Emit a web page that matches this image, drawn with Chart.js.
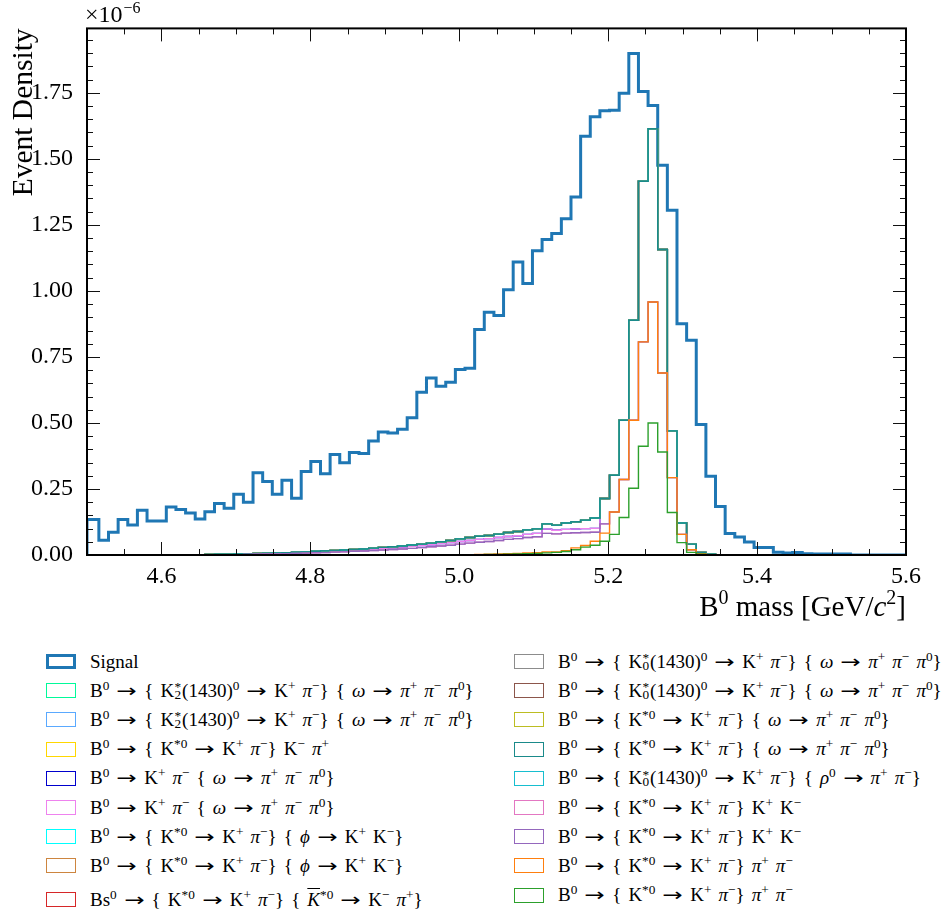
<!DOCTYPE html>
<html lang="en">
<head>
<meta charset="UTF-8">
<title>B0 mass - signal and peaking backgrounds</title>
<script src="https://cdn.jsdelivr.net/npm/chart.js"></script>
<style>
  html, body { margin: 0; padding: 0; background: #fff; }
  body { width: 947px; height: 916px; overflow: hidden; position: relative;
         font-family: "Liberation Serif", "DejaVu Serif", serif; color: #000; }
  #chartBox { position: absolute; left: 0; top: 0; width: 947px; height: 640px; }
  #legend { position: absolute; left: 0; top: 647px; width: 947px; display: flex; }
  #legend .col { display: flex; flex-direction: column; }
  #legend .col.left { margin-left: 46px; width: 468px; }
  #legend .item { display: flex; align-items: center; height: 29.2px; font-size: 19px;
                  white-space: nowrap; word-spacing: 2.3px; }
  #legend .item.tall { height: 38.8px; }
  #legend .box { box-sizing: border-box; width: 30px; height: 15px; margin-right: 14px; background: #fff; flex: none; }
  sup { font-size: 0.7em; line-height: 0; vertical-align: 0.5em; }
  .ar { display: inline-block; width: 1.15em; text-align: center; font-family: "DejaVu Sans", sans-serif; font-size: 0.95em; }
  .ar span { display: inline-block; transform: scaleX(1.35); }
  .stk { display: inline-block; position: relative; width: 0.42em; height: 0.75em; }
  .stk .up { position: absolute; left: 0.02em; top: -0.25em; font-size: 0.7em; }
  .stk .dn { position: absolute; left: 0.02em; bottom: -0.45em; font-size: 0.7em; }
  .bar { font-style: italic; text-decoration: overline; }
</style>
</head>
<body>
<div id="chartBox"><canvas id="massChart"></canvas></div>
<div id="legend"></div>

<script>
// ------------------------------------------------
// Binning and axis ticks (y values are in units of 1e-6)
const xMin = 4.5, xMax = 5.6, nBins = 85;
const binStart = 4.503;          // first full bin edge seen in the plot
const xTickValues = [4.6, 4.8, 5.0, 5.2, 5.4, 5.6];
const yTickValues = [0, 0.25, 0.5, 0.75, 1.0, 1.25, 1.5, 1.75];
const yMax = 1.994;

// ------------------------------------------------
// Bin contents (85 bins)
const signalDensity = [
  0.134, 0.056, 0.086, 0.134, 0.114, 0.169, 0.129, 0.129, 0.182, 0.172,
  0.159, 0.136, 0.164, 0.195, 0.177, 0.230, 0.200, 0.311, 0.278, 0.230,
  0.283, 0.215, 0.316, 0.354, 0.308, 0.381, 0.349, 0.388, 0.384, 0.432,
  0.466, 0.462, 0.476, 0.520, 0.616, 0.670, 0.639, 0.654, 0.702, 0.707,
  0.854, 0.919, 0.907, 1.004, 1.109, 1.028, 1.152, 1.195, 1.217, 1.273,
  1.356, 1.586, 1.659, 1.682, 1.684, 1.748, 1.899, 1.755, 1.702, 1.476,
  1.305, 0.876, 0.813, 0.494, 0.298, 0.184, 0.081, 0.068, 0.049, 0.028,
  0.028, 0.010, 0.008, 0.009, 0.005, 0.004, 0.004, 0.004, 0.004, 0,
  0, 0, 0, 0, 0
];

// resonant K* / omega / phi / rho modes (the teal-cyan peak)
const omegaModes = [
  0, 0, 0, 0, 0, 0, 0, 0, 0, 0,
  0, 0.001, 0.002, 0.003, 0.003, 0.004, 0.005, 0.006, 0.007, 0.008,
  0.009, 0.011, 0.012, 0.014, 0.016, 0.017, 0.019, 0.021, 0.023, 0.026,
  0.029, 0.031, 0.034, 0.038, 0.041, 0.045, 0.050, 0.055, 0.061, 0.066,
  0.071, 0.074, 0.079, 0.085, 0.089, 0.095, 0.099, 0.118, 0.113, 0.121,
  0.126, 0.132, 0.140, 0.214, 0.302, 0.510, 0.889, 1.415, 1.614, 1.157,
  0.470, 0.121, 0.041, 0.010, 0.003, 0, 0, 0, 0, 0,
  0, 0, 0, 0, 0, 0, 0, 0, 0, 0,
  0, 0, 0, 0, 0
];

// non-resonant K+ pi- with omega
const nonresOmega = [
  0, 0, 0, 0, 0, 0, 0, 0, 0, 0,
  0, 0, 0, 0, 0.001, 0.002, 0.003, 0.004, 0.005, 0.006,
  0.007, 0.008, 0.009, 0.011, 0.012, 0.014, 0.016, 0.018, 0.020, 0.022,
  0.025, 0.027, 0.030, 0.033, 0.036, 0.039, 0.043, 0.047, 0.051, 0.055,
  0.059, 0.062, 0.066, 0.070, 0.073, 0.078, 0.082, 0.098, 0.094, 0.097,
  0.099, 0.100, 0.101, 0.214, 0.302, 0.510, 0.889, 1.415, 1.614, 1.157,
  0.470, 0.121, 0.041, 0.010, 0.003, 0, 0, 0, 0, 0,
  0, 0, 0, 0, 0, 0, 0, 0, 0, 0,
  0, 0, 0, 0, 0
];

// K*0 K+ K-
const kstarKK = [
  0, 0, 0, 0, 0, 0, 0, 0, 0, 0,
  0, 0, 0, 0, 0, 0.001, 0.002, 0.003, 0.004, 0.004,
  0.005, 0.006, 0.007, 0.008, 0.009, 0.011, 0.012, 0.014, 0.015, 0.017,
  0.019, 0.021, 0.023, 0.025, 0.028, 0.031, 0.034, 0.037, 0.041, 0.045,
  0.048, 0.051, 0.055, 0.059, 0.062, 0.066, 0.069, 0.082, 0.080, 0.083,
  0.084, 0.085, 0.086, 0.118, 0.163, 0.286, 0.510, 0.807, 0.958, 0.689,
  0.293, 0.078, 0.020, 0.005, 0, 0, 0, 0, 0, 0,
  0, 0, 0, 0, 0, 0, 0, 0, 0, 0,
  0, 0, 0, 0, 0
];

// K*0 pi+ pi- (orange)
const kstarPiPiA = [
  0, 0, 0, 0, 0, 0, 0, 0, 0, 0,
  0, 0, 0, 0, 0, 0, 0, 0, 0, 0,
  0, 0, 0, 0, 0, 0, 0, 0, 0, 0,
  0, 0, 0, 0, 0, 0, 0, 0, 0, 0.001,
  0.002, 0.003, 0.004, 0.005, 0.006, 0.008, 0.009, 0.012, 0.012, 0.016,
  0.027, 0.036, 0.052, 0.083, 0.163, 0.286, 0.510, 0.807, 0.958, 0.689,
  0.293, 0.078, 0.020, 0.005, 0, 0, 0, 0, 0, 0,
  0, 0, 0, 0, 0, 0, 0, 0, 0, 0,
  0, 0, 0, 0, 0
];

// K*0 pi+ pi- (green)
const kstarPiPiB = [
  0, 0, 0, 0, 0, 0, 0, 0, 0, 0,
  0, 0, 0, 0, 0, 0, 0, 0, 0, 0,
  0, 0, 0, 0, 0, 0, 0, 0, 0, 0,
  0, 0, 0, 0, 0, 0, 0, 0, 0, 0,
  0.001, 0.002, 0.002, 0.003, 0.004, 0.005, 0.006, 0.008, 0.010, 0.013,
  0.020, 0.030, 0.037, 0.052, 0.078, 0.142, 0.253, 0.412, 0.500, 0.390,
  0.161, 0.047, 0.010, 0.003, 0, 0, 0, 0, 0, 0,
  0, 0, 0, 0, 0, 0, 0, 0, 0, 0,
  0, 0, 0, 0, 0
];

// ------------------------------------------------
// Legend entries (^x superscript, _x subscript, ~K barred K)
const legendLabels = [
  'Signal',
  'B^0 → { K^*_2(1430)^0 → K^+ π^−} { ω → π^+ π^− π^0}',
  'B^0 → { K^*_2(1430)^0 → K^+ π^−} { ω → π^+ π^− π^0}',
  'B^0 → { K^{*0} → K^+ π^−} K^− π^+',
  'B^0 → K^+ π^− { ω → π^+ π^− π^0}',
  'B^0 → K^+ π^− { ω → π^+ π^− π^0}',
  'B^0 → { K^{*0} → K^+ π^−} { ϕ → K^+ K^−}',
  'B^0 → { K^{*0} → K^+ π^−} { ϕ → K^+ K^−}',
  'Bs^0 → { K^{*0} → K^+ π^−} { ~K^{*0} → K^− π^+}',
  'B^0 → { K^*_0(1430)^0 → K^+ π^−} { ω → π^+ π^− π^0}',
  'B^0 → { K^*_0(1430)^0 → K^+ π^−} { ω → π^+ π^− π^0}',
  'B^0 → { K^{*0} → K^+ π^−} { ω → π^+ π^− π^0}',
  'B^0 → { K^{*0} → K^+ π^−} { ω → π^+ π^− π^0}',
  'B^0 → { K^*_0(1430)^0 → K^+ π^−} { ρ^0 → π^+ π^−}',
  'B^0 → { K^{*0} → K^+ π^−} K^+ K^−',
  'B^0 → { K^{*0} → K^+ π^−} K^+ K^−',
  'B^0 → { K^{*0} → K^+ π^−} π^+ π^−',
  'B^0 → { K^{*0} → K^+ π^−} π^+ π^−'
];
const seriesValues = [
  signalDensity, omegaModes, omegaModes, omegaModes, nonresOmega, nonresOmega,
  omegaModes, omegaModes, omegaModes, omegaModes, omegaModes, omegaModes,
  omegaModes, omegaModes, kstarKK, kstarKK, kstarPiPiA, kstarPiPiB
];
const seriesColors = [
  '#1f77b4', '#00fa9a', '#5aa9ff', '#ffd700', '#0000cd', '#ee82ee',
  '#00ffff', '#cd853f', '#d62728', '#8c8c8c', '#8c564b', '#bcbd22',
  '#1a8a8a', '#17becf', '#e377c2', '#9467bd', '#ff7f0e', '#2ca02c'
];

const serif = '"Liberation Serif", "DejaVu Serif", serif';

function toHtml(s) {
  return s
    .replace(/~K/g, '<span class="bar">K</span>')
    .replace(/\^(\S)_(\S)/g, '<span class="stk"><span class="up">$1</span><span class="dn">$2</span></span>')
    .replace(/\^\{([^}]*)\}/g, '<sup>$1</sup>')
    .replace(/\^(\S)/g, '<sup>$1</sup>')
    .replace(/([πωϕρ])/g, '<i>$1</i>')
    .replace(/→/g, '<span class="ar"><span>→</span></span>');
}

// histogram outline as step points on the bin edges
const binWidth = (xMax - xMin) / nBins;
function stepPoints(vals) {
  const edge = i => (i === 0 ? xMin : binStart + i * binWidth);
  const pts = [{ x: edge(0), y: 0 }];
  vals.forEach((v, i) => pts.push({ x: edge(i), y: v }));
  pts.push({ x: edge(vals.length), y: vals[vals.length - 1] });
  pts.push({ x: edge(vals.length), y: 0 });
  return pts;
}

// later entries drawn on top, as in the original; the teal line shows over the cyan one
const drawOrder = i => (i === 12 ? 4.5 : seriesValues.length - i);

const datasets = seriesValues.map((vals, i) => ({
  label: legendLabels[i].replace(/[\^_{}~]/g, ''),
  data: stepPoints(vals),
  borderColor: seriesColors[i],
  borderWidth: i === 0 ? 3 : 1.4,
  stepped: 'before',
  fill: false,
  pointRadius: 0,
  order: drawOrder(i)
}));

// ------------------------------------------------
// inward ticks on all four sides, frame, exponent and x title
const frameAndTicks = {
  id: 'frameAndTicks',
  afterDatasetsDraw(chart) {
    const { ctx, chartArea: a, scales: { x, y } } = chart;
    ctx.save();
    ctx.strokeStyle = '#111';
    ctx.lineWidth = 1;
    ctx.beginPath();
    for (let k = 1; k <= 21; k++) {
      const p = Math.round(x.getPixelForValue(xMin + k * 0.05)) + 0.5;
      const len = k % 4 === 2 ? 13 : 6;
      ctx.moveTo(p, a.bottom); ctx.lineTo(p, a.bottom - len);
      ctx.moveTo(p, a.top); ctx.lineTo(p, a.top + len);
    }
    for (let k = 1; k * 0.05 < yMax; k++) {
      const p = Math.round(y.getPixelForValue(k * 0.05)) + 0.5;
      const len = k % 5 === 0 ? 13 : 6;
      ctx.moveTo(a.left, p); ctx.lineTo(a.left + len, p);
      ctx.moveTo(a.right, p); ctx.lineTo(a.right - len, p);
    }
    ctx.stroke();
    ctx.lineWidth = 2;
    ctx.strokeStyle = '#000';
    ctx.strokeRect(a.left, a.top, a.width, a.height);

    ctx.fillStyle = '#000';
    ctx.textBaseline = 'alphabetic';
    ctx.textAlign = 'left';
    // ×10^-6
    ctx.font = '24px ' + serif;
    ctx.fillText('×10', a.left - 2, 22);
    const w10 = ctx.measureText('×10').width;
    ctx.font = '16px ' + serif;
    ctx.fillText('−6', a.left - 2 + w10 + 1, 13);

    // x title: B^0 mass [GeV/c^2]
    const parts = [
      { t: 'B', f: '29px ' + serif, dy: 0 },
      { t: '0', f: '20px ' + serif, dy: -12 },
      { t: ' mass [GeV/', f: '29px ' + serif, dy: 0 },
      { t: 'c', f: 'italic 29px ' + serif, dy: 0 },
      { t: '2', f: '20px ' + serif, dy: -12 },
      { t: ']', f: '29px ' + serif, dy: 0 }
    ];
    let total = 0;
    parts.forEach(p => { ctx.font = p.f; p.w = ctx.measureText(p.t).width; total += p.w; });
    let cx = a.right - total;
    const base = 616;
    parts.forEach(p => { ctx.font = p.f; ctx.fillText(p.t, cx, base + p.dy); cx += p.w; });
    ctx.restore();
  }
};

// HTML legend in two columns below the plot
const htmlLegend = {
  id: 'htmlLegend',
  afterUpdate(chart) {
    const box = document.getElementById('legend');
    box.innerHTML = '';
    const cols = [document.createElement('div'), document.createElement('div')];
    cols[0].className = 'col left';
    cols[1].className = 'col';
    chart.data.datasets.forEach((ds, i) => {
      const item = document.createElement('div');
      item.className = 'item' + (i === 8 ? ' tall' : '');
      const sw = document.createElement('span');
      sw.className = 'box';
      sw.style.border = (i === 0 ? 3 : 1.5) + 'px solid ' + ds.borderColor;
      const txt = document.createElement('span');
      txt.innerHTML = toHtml(legendLabels[i]);
      item.append(sw, txt);
      cols[i < 9 ? 0 : 1].appendChild(item);
    });
    box.append(...cols);
  }
};

new Chart(document.getElementById('massChart'), {
  type: 'line',
  data: { datasets },
  options: {
    responsive: true,
    maintainAspectRatio: false,
    animation: false,
    layout: { padding: { top: 27, right: 41, left: 0, bottom: 0 } },
    plugins: { legend: { display: false }, tooltip: { enabled: false } },
    scales: {
      x: {
        type: 'linear', min: xMin, max: xMax,
        afterBuildTicks: s => { s.ticks = xTickValues.map(value => ({ value })); },
        afterFit: s => { s.height = 85; },
        grid: { display: false, drawTicks: false },
        border: { display: false },
        ticks: {
          autoSkip: false, maxRotation: 0, padding: 7, color: '#000',
          font: { family: serif, size: 24 },
          callback: v => v.toFixed(1)
        }
      },
      y: {
        min: 0, max: yMax,
        afterBuildTicks: s => { s.ticks = yTickValues.map(value => ({ value })); },
        afterFit: s => { s.width = 87; },
        grid: { display: false, drawTicks: false },
        border: { display: false },
        title: {
          display: true, text: 'Event Density', align: 'end', color: '#000',
          font: { family: serif, size: 29.5 }, padding: { top: 7, bottom: 0 }
        },
        ticks: {
          autoSkip: false, padding: 14, color: '#000',
          font: { family: serif, size: 24 },
          callback: v => v.toFixed(2)
        }
      }
    }
  },
  plugins: [frameAndTicks, htmlLegend]
});
</script>
</body>
</html>
